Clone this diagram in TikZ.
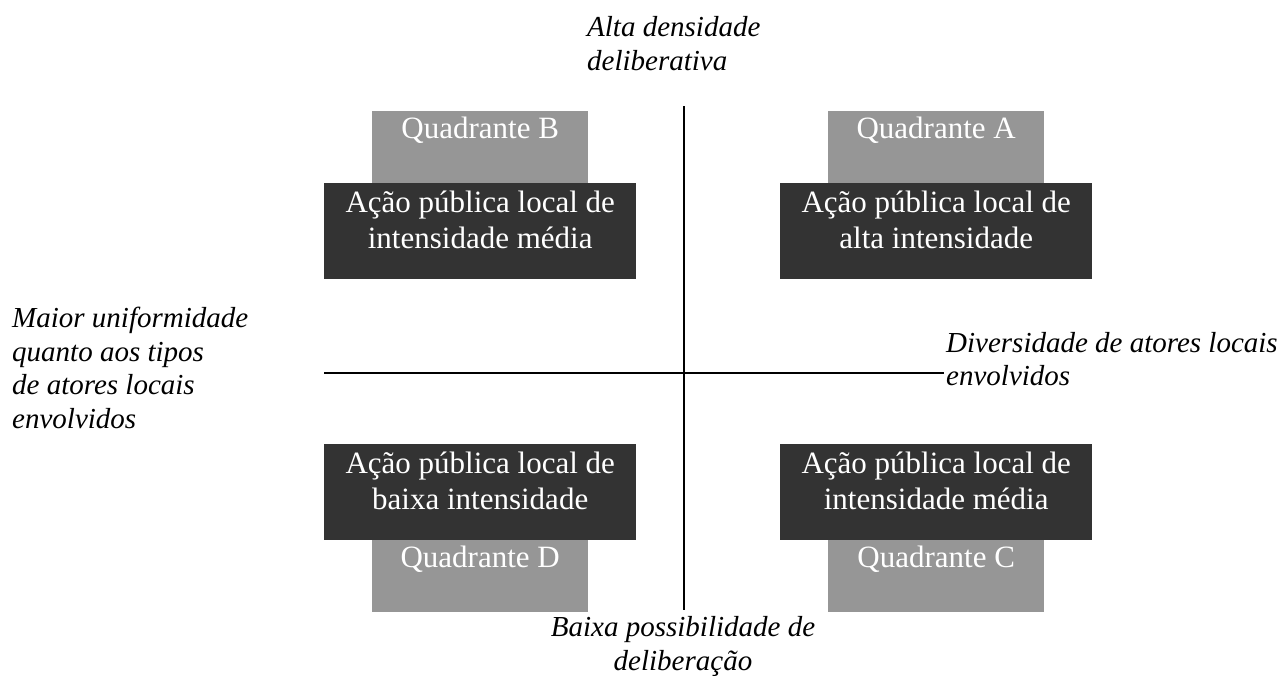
\documentclass[tikz,border=0pt]{standalone}
\usepackage{fontspec}
\setmainfont{Liberation Serif}
\usetikzlibrary{positioning}

\definecolor{quadgray}{RGB}{150,150,150}
\definecolor{acaodark}{RGB}{51,51,51}

\tikzset{
  quadbox/.style={fill=quadgray, inner sep=0pt, minimum width=216pt, minimum height=72pt, anchor=north west},
  acaobox/.style={fill=acaodark, inner sep=0pt, minimum width=312pt, minimum height=95.5pt, anchor=north west},
  boxtext/.style={text=white, inner sep=0pt, align=center, font=\fontsize{31}{35.5}\selectfont},
  axislabel/.style={inner sep=0pt, font=\fontsize{29}{33.5}\selectfont\itshape},
  axisline/.style={line width=2.5pt}
}

\begin{document}
\begin{tikzpicture}[x=1pt,y=-1pt]
        \useasboundingbox (0,0) rectangle (1288,675);

        % Upper quadrants: gray tab above, dark body below
        \node[quadbox] (quadB) at (372,111) {};
        \node[acaobox] (acaoB) at (324,183) {};
        \node[quadbox] (quadA) at (828,111) {};
        \node[acaobox] (acaoA) at (780,183) {};

        % Lower quadrants: dark body above, gray tab below
        \node[acaobox] (acaoD) at (324,444) {};
        \node[quadbox] (quadD) at (372,540) {};
        \node[acaobox] (acaoC) at (780,444) {};
        \node[quadbox] (quadC) at (828,540) {};

        % Quadrant names
        \node[boxtext, anchor=base] (nameB) at ([yshift=-27pt]quadB.north) {Quadrante B};
        \node[boxtext, anchor=base] (nameA) at ([yshift=-27pt]quadA.north) {Quadrante A};
        \node[boxtext, anchor=base] (nameD) at ([yshift=-27pt]quadD.north) {Quadrante D};
        \node[boxtext, anchor=base] (nameC) at ([yshift=-27pt]quadC.north) {Quadrante C};

        % Texts in the dark boxes
        \node[boxtext, below=8pt of acaoB.north] (txtB) {Ação pública local de\\intensidade média};
        \node[boxtext, below=8pt of acaoA.north] (txtA) {Ação pública local de\\alta intensidade};
        \node[boxtext, below=8pt of acaoD.north] (txtD) {Ação pública local de\\baixa intensidade};
        \node[boxtext, below=8pt of acaoC.north] (txtC) {Ação pública local de\\intensidade média};

        % The two axes
        \coordinate (vtop) at (684,106);
        \coordinate (vbot) at (684,610);
        \coordinate (hleft) at (324,373);
        \coordinate (hright) at (944,373);
        \draw[axisline] (vtop) -- (vbot);
        \draw[axisline] (hleft) -- (hright);

        % Axis labels
        \node[axislabel, align=left, anchor=north west, font=\fontsize{29}{34.5}\selectfont\itshape] (lblTop) at (587,16) {Alta densidade\\deliberativa};
        \node[axislabel, align=center, anchor=north, font=\fontsize{29}{34.5}\selectfont\itshape] (lblBottom) at (683,616) {Baixa possibilidade de\\deliberação};
        \node[axislabel, align=left, anchor=north west] (lblLeft) at (12,307) {Maior uniformidade\\quanto aos tipos\\de atores locais\\envolvidos};
        \node[axislabel, align=left, anchor=north west] (lblRight) at (946,332) {Diversidade de atores locais\\envolvidos};
\end{tikzpicture}
\end{document}
